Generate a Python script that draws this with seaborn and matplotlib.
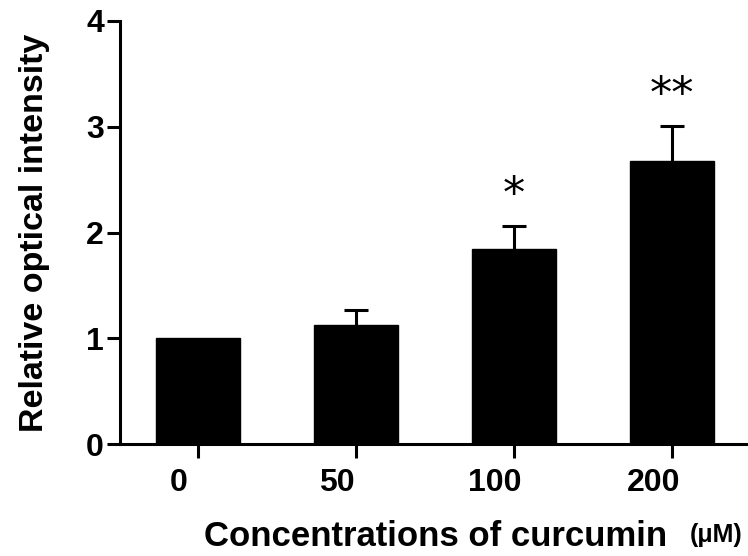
import matplotlib
matplotlib.use("Agg")
import matplotlib.pyplot as plt
import matplotlib.transforms as mtransforms
import seaborn as sns
import pandas as pd

categories = ["0", "50", "100", "200"]
means = [1.0, 1.13, 1.84, 2.68]
errors = [0.0, 0.14, 0.22, 0.33]
stars = ["", "", "*", "**"]
y_ticks = [0, 1, 2, 3, 4]

sns.set_theme(style="ticks")
plt.rcParams["font.family"] = ["Liberation Sans", "DejaVu Sans"]
plt.rcParams["font.weight"] = "bold"

fig = plt.figure(figsize=(7.48, 5.56), dpi=100)
W, H = 748, 556
ax = fig.add_axes([120 / W, (H - 444) / H, (W - 120) / W, (444 - 21) / H])

df = pd.DataFrame({"conc": categories, "val": means})
sns.barplot(data=df, x="conc", y="val", color="black", edgecolor="black",
            linewidth=1, width=0.53, errorbar=None, ax=ax, saturation=1)

for i, (m, e) in enumerate(zip(means, errors)):
    if e > 0:
        _, caps, _ = ax.errorbar([i], [m], yerr=[[0], [e]], fmt="none",
                                 ecolor="black", elinewidth=2.2, capsize=8.3,
                                 capthick=2.2, zorder=3)
        if len(caps) == 2:
            caps[0].set_visible(False)
    if stars[i]:
        ax.text(i, m + e + 0.29, stars[i], ha="center", va="center",
                fontsize=32, fontweight="normal", family="DejaVu Sans",
                color="black")

ax.set_xlim(-0.494, 3.48)
ax.set_ylim(0, 4)
ax.set_yticks(y_ticks)
ax.set_yticklabels([str(t) for t in y_ticks])

for side in ["top", "right"]:
    ax.spines[side].set_visible(False)
for side in ["left", "bottom"]:
    ax.spines[side].set_linewidth(2.2)
    ax.spines[side].set_color("black")

ax.tick_params(axis="y", length=9.5, width=2.2, pad=2, labelsize=23, colors="black")
ax.tick_params(axis="x", length=10, width=2.2, pad=7, labelsize=23, colors="black")
for lab in ax.get_xticklabels() + ax.get_yticklabels():
    lab.set_fontweight("bold")

off = mtransforms.ScaledTranslation(-19 / 100, 0, fig.dpi_scale_trans)
for lab in ax.get_xticklabels():
    lab.set_transform(lab.get_transform() + off)

ax.set_ylabel("Relative optical intensity", fontsize=24.5, fontweight="bold",
              color="black")
ax.yaxis.set_label_coords(-0.136, 0.5)
ax.yaxis.label.set_va("center")

ax.set_xlabel("Concentrations of curcumin", fontsize=25, fontweight="bold",
              color="black")
ax.xaxis.set_label_coords(0.503, -0.218)
ax.xaxis.label.set_va("center")

fig.text(716 / W, 1 - 535 / H, "(\u03bcM)", ha="center", va="center",
         fontsize=18, fontweight="bold", color="black")

fig.savefig("out.png", dpi=100)
